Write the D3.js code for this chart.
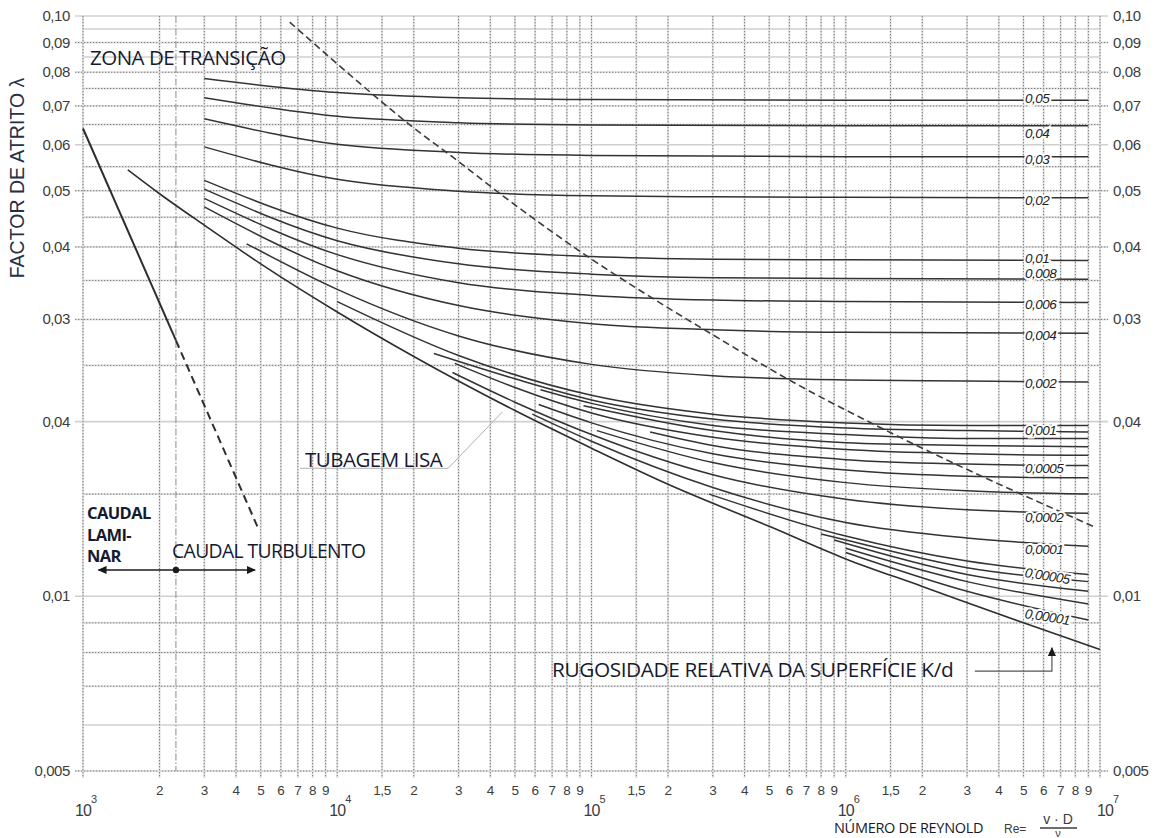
<!DOCTYPE html>
<html>
<head>
<meta charset="utf-8">
<script src="https://cdn.jsdelivr.net/npm/d3@7"></script>
<style>
body { margin: 0; background: #fff; }
svg { display: block; }
</style>
</head>
<body>
<svg id="chart" width="1155" height="838"></svg>
<script>
// ---- data ----
var yTickValues = [0.1, 0.09, 0.08, 0.07, 0.06, 0.05, 0.04, 0.03, 0.02, 0.01, 0.005];
var yTickLabels = ["0,10", "0,09", "0,08", "0,07", "0,06", "0,05", "0,04", "0,03", "0,04", "0,01", "0,005"];
var yGridDotted = [0.09, 0.08, 0.075, 0.07, 0.065, 0.055, 0.05, 0.045, 0.04, 0.035, 0.03, 0.025, 0.015, 0.009, 0.008, 0.007, 0.005];
var yGridSolid = [0.1, 0.095, 0.085, 0.06, 0.02, 0.01, 0.006, 0.005];

var decades = [1e3, 1e4, 1e5, 1e6, 1e7];
var decadeExp = ["3", "4", "5", "6", "7"];
var firstDecadeMults = [2, 3, 4, 5, 6, 7, 8, 9];
var otherDecadeMults = [1.5, 2, 3, 4, 5, 6, 7, 8, 9];
var reCritical = 2320;

// relative roughness curves  [Re, lambda]
var k0_05    = [[3e3,.0780],[1e4,.0738],[3e4,.0723],[1e5,.0718],[1e6,.0716],[9e6,.0716]];
var k0_04    = [[3e3,.0723],[1e4,.0672],[3e4,.0655],[1e5,.0649],[1e6,.0647],[9e6,.0647]];
var k0_03    = [[3e3,.0665],[1e4,.0601],[3e4,.0582],[1e5,.0575],[1e6,.0572],[9e6,.0572]];
var k0_02    = [[3e3,.0595],[1e4,.0523],[3e4,.0499],[1e5,.0490],[3e5,.0488],[1e6,.0487],[9e6,.0486]];
var k0_01    = [[3e3,.0521],[1e4,.0431],[3e4,.0398],[1e5,.0385],[3e5,.0381],[1e6,.0380],[9e6,.0379]];
var k0_008   = [[3e3,.0503],[1e4,.0410],[3e4,.0374],[1e5,.0359],[3e5,.0354],[1e6,.0353],[9e6,.0352]];
var k0_006   = [[3e3,.0485],[1e4,.0388],[3e4,.0347],[1e5,.0330],[3e5,.0324],[1e6,.0322],[9e6,.0321]];
var k0_004   = [[3e3,.0469],[1e4,.0364],[3e4,.0317],[1e5,.0295],[3e5,.0288],[1e6,.0285],[9e6,.0284]];
var k0_002   = [[4.4e3,.0405],[1e4,.0338],[3e4,.0281],[1e5,.0251],[3e5,.0240],[1e6,.0236],[3e6,.0235],[9e6,.0234]];
var k0_001   = [[1e4,.0322],[3e4,.0260],[1e5,.0222],[3e5,.0206],[1e6,.0199],[3e6,.0197],[9e6,.0197]];
var k0_0009  = [[2.4e4,.0262],[5e4,.0237],[1e5,.0218],[3e5,.0202],[1e6,.0195],[3e6,.0193],[9e6,.0192]];
var k0_0008  = [[6.3e4,.0227],[1e5,.0215],[3e5,.0197],[1e6,.0190],[3e6,.0187],[9e6,.0187]];
var k0_0007  = [[9.3e4,.0213],[3e5,.0193],[1e6,.0184],[3e6,.0182],[9e6,.0181]];
var k0_0006  = [[2.9e4,.0252],[5e4,.0229],[1e5,.0207],[3e5,.0188],[1e6,.0179],[3e6,.0176],[9e6,.0175]];
var k0_0005  = [[1.7e5,.0192],[3e5,.0182],[1e6,.0172],[3e6,.0169],[9e6,.0168]];
var k0_0004  = [[6.2e4,.0214],[1e5,.0199],[3e5,.0176],[1e6,.0165],[3e6,.0161],[9e6,.0160]];
var k0_0003  = [[1.05e5,.0193],[3e5,.0170],[1e6,.0157],[3e6,.0152],[9e6,.0150]];
var k0_0002  = [[2.84e4,.0243],[5e4,.0216],[1e5,.0190],[3e5,.0162],[1e6,.0147],[3e6,.0141],[9e6,.0139]];
var k0_0001  = [[5.85e4,.0206],[1e5,.0185],[3e5,.0154],[1e6,.0134],[3e6,.0126],[9e6,.0122]];
var k0_00005 = [[2.9e5,.0150],[1e6,.0127],[3e6,.0115],[9e6,.0109]];
var k0_00004 = [[8e5,.0128],[1e6,.0125],[3e6,.0112],[9e6,.0106]];
var k0_00003 = [[9e5,.0125],[3e6,.0109],[9e6,.0102]];
var k0_00002 = [[1e6,.0121],[3e6,.0106],[9e6,.0097]];
var k0_00001 = [[1e6,.0119],[3e6,.0102],[9e6,.0091]];
var smoothPipe = [[1.5e3,.0543],[2e3,.0494],[3e3,.0436],[5e3,.0374],[1e4,.0309],[2e4,.0259],[5e4,.0209],[1e5,.0180],[2e5,.0156],[5e5,.0132],[1e6,.0116],[2e6,.0104],[5e6,.0090],[1e7,.0081]];

// laminar flow line (solid part, then dashed)
var laminar = [[1e3,.064],[2.32e3,.0276]];
var laminarDashed = [[2.32e3,.0276],[4.9e3,.01306]];
// limit of the transition zone (dashed)
var transitionLimit = [[6.5e3,.0976],[1.47e4,.0716],[1.93e4,.0649],[2.85e4,.0571],[4.65e4,.0484],[1.01e5,.0380],[1.98e5,.0315],[2.93e5,.0284],[6.2e5,.0234],[1.36e6,.01956],[9.4e6,.0132]];

// curve labels
var curveLabels = ["0,05","0,04","0,03","0,02","0,01","0,008","0,006","0,004","0,002","0,001","0,0005","0,0002","0,0001","0,00005","0,00001"];
var curveLabelLambda = [.0722,.0629,.0567,.0482,.0383,.0361,.0318,.0282,.0233,.0193,.01662,.01368,.01205,.0110,.00935];
var curveLabelAngle = [0,0,0,0,0,0,0,0,0,0,0,0,0,9,9];

var roughCurves = [k0_05,k0_04,k0_03,k0_02,k0_01,k0_008,k0_006,k0_004,k0_002,k0_001,
    k0_0009,k0_0008,k0_0007,k0_0006,k0_0005,k0_0004,k0_0003,k0_0002,k0_0001,
    k0_00005,k0_00004,k0_00003,k0_00002,k0_00001];

// ---- drawing ----
var x = d3.scaleLog().domain([1e3, 1e7]).range([83, 1100]);
var y = d3.scaleLog().domain([0.005, 0.1]).range([771, 16]);
var svg = d3.select('#chart');
var ink = '#161a2e';
var axisInk = '#3c3c3c';

var defs = svg.append('defs');
defs.append('marker').attr('id', 'arr')
    .attr('viewBox', '0 -5 10 10').attr('refX', 9).attr('refY', 0)
    .attr('markerWidth', 9).attr('markerHeight', 9).attr('markerUnits', 'userSpaceOnUse')
    .attr('orient', 'auto-start-reverse')
  .append('path').attr('d', 'M0,-4.5L10,0L0,4.5Z').attr('fill', '#1a1a1a');

// vertical grid values
var xGrid = [];
decades.slice(0, 4).forEach(function(d, i){
    (i == 0 ? firstDecadeMults : otherDecadeMults).forEach(function(m){
        xGrid.push({v: d*m, t: String(m).replace('.', ',')});
    });
});

var grid = svg.append('g');
// light bands under all gridlines
grid.selectAll('.hb').data(yGridSolid).enter().append('line')
    .attr('x1', function(d){ return yTickValues.indexOf(d) >= 0 ? 75 : 83; })
    .attr('x2', function(d){ return yTickValues.indexOf(d) >= 0 ? 1108 : 1100; })
    .attr('y1', y).attr('y2', y)
    .attr('stroke', '#d0d0d0').attr('stroke-width', 1.6);
grid.selectAll('.hd').data(yGridDotted).enter().append('line')
    .attr('x1', function(d){ return yTickValues.indexOf(d) >= 0 ? 75 : 83; })
    .attr('x2', function(d){ return yTickValues.indexOf(d) >= 0 ? 1108 : 1100; })
    .attr('y1', y).attr('y2', y)
    .attr('stroke', '#e2e2e2').attr('stroke-width', 2);
grid.selectAll('.hdd').data(yGridDotted).enter().append('line')
    .attr('x1', function(d){ return yTickValues.indexOf(d) >= 0 ? 75 : 83; })
    .attr('x2', function(d){ return yTickValues.indexOf(d) >= 0 ? 1108 : 1100; })
    .attr('y1', y).attr('y2', y)
    .attr('stroke', '#6e6e6e').attr('stroke-width', 0.9).attr('stroke-dasharray', '1.3,1.7');

var vAll = decades.concat(xGrid.map(function(d){ return d.v; }));
grid.selectAll('.vb').data(vAll).enter().append('line')
    .attr('x1', x).attr('x2', x).attr('y1', 16).attr('y2', 778)
    .attr('stroke', '#e2e2e2').attr('stroke-width', 2);
grid.selectAll('.vd').data(vAll).enter().append('line')
    .attr('x1', x).attr('x2', x).attr('y1', 16).attr('y2', 778)
    .attr('stroke', '#6e6e6e').attr('stroke-width', 0.9).attr('stroke-dasharray', '1.3,1.7');
// critical Reynolds, dash-dot
grid.append('line')
    .attr('x1', x(reCritical)).attr('x2', x(reCritical)).attr('y1', y(0.1)).attr('y2', y(0.005))
    .attr('stroke', '#8a8a8a').attr('stroke-width', 1).attr('stroke-dasharray', '7,2,1.5,2');

// axis labels
var axisFont = '"Liberation Sans", Arial, sans-serif';
svg.append('g').selectAll('text').data(yTickValues).enter().append('text')
    .attr('x', 70).attr('y', function(d){ return y(d) + 5; })
    .attr('text-anchor', 'end').attr('font-family', axisFont).attr('font-size', 15)
    .attr('fill', axisInk).attr('letter-spacing', -0.4)
    .text(function(d, i){ return yTickLabels[i]; });
svg.append('g').selectAll('text').data(yTickValues).enter().append('text')
    .attr('x', 1113).attr('y', function(d){ return y(d) + 5; })
    .attr('font-family', axisFont).attr('font-size', 15)
    .attr('fill', axisInk).attr('letter-spacing', -0.4)
    .text(function(d, i){ return yTickLabels[i]; });

svg.append('g').selectAll('text').data(xGrid).enter().append('text')
    .attr('x', function(d){ return x(d.v); }).attr('y', 795)
    .attr('text-anchor', 'middle').attr('font-family', axisFont).attr('font-size', 13.5)
    .attr('fill', axisInk).attr('letter-spacing', -0.4)
    .text(function(d){ return d.t; });

var decLab = svg.append('g').selectAll('g').data(decades).enter().append('g')
    .attr('transform', function(d, i){ return 'translate(' + (x(d) + (i == 4 ? -3 : -8)) + ',0)'; });
decLab.append('text').attr('x', 0).attr('y', 816)
    .attr('font-family', axisFont).attr('font-size', 16).attr('fill', axisInk).attr('letter-spacing', -0.8)
    .text('10');
decLab.append('text').attr('x', 16).attr('y', 803)
    .attr('font-family', axisFont).attr('font-size', 11).attr('fill', axisInk)
    .text(function(d, i){ return decadeExp[i]; });

// y axis title
svg.append('text')
    .attr('transform', 'translate(24,178) rotate(-90)')
    .attr('text-anchor', 'middle').attr('font-family', axisFont).attr('font-size', 19.5)
    .attr('fill', '#283048')
    .text('FACTOR DE ATRITO λ');

// x axis title
var textFont = '"Open Sans", "Noto Sans", sans-serif';
svg.append('text').attr('x', 834).attr('y', 833)
    .attr('font-family', textFont).attr('font-size', 14.5).attr('fill', ink).attr('letter-spacing', -0.3)
    .text('NÚMERO DE REYNOLD');
svg.append('text').attr('x', 1004).attr('y', 833)
    .attr('font-family', axisFont).attr('font-size', 12).attr('fill', axisInk)
    .text('Re=');
svg.append('text').attr('x', 1058).attr('y', 824).attr('text-anchor', 'middle')
    .attr('font-family', axisFont).attr('font-size', 14).attr('fill', axisInk)
    .text('v · D');
svg.append('line').attr('x1', 1040).attr('x2', 1077).attr('y1', 828).attr('y2', 828)
    .attr('stroke', axisInk).attr('stroke-width', 1.3);
svg.append('text').attr('x', 1058).attr('y', 837).attr('text-anchor', 'middle')
    .attr('font-family', axisFont).attr('font-size', 11).attr('fill', axisInk)
    .text('ν');

// ---- curves ----
var line = d3.line()
    .x(function(d){ return x(d[0]); })
    .y(function(d){ return y(d[1]); })
    .curve(d3.curveMonotoneX);

var curves = svg.append('g').attr('fill', 'none');
curves.selectAll('path.k').data(roughCurves).enter().append('path')
    .attr('d', line).attr('stroke', '#333').attr('stroke-width', 1.5);
curves.append('path').datum(smoothPipe).attr('d', line)
    .attr('stroke', '#2e2e2e').attr('stroke-width', 1.6);
curves.append('path').datum(laminar).attr('d', line)
    .attr('stroke', '#2e2e2e').attr('stroke-width', 2);
curves.append('path').datum(laminarDashed).attr('d', line)
    .attr('stroke', '#2e2e2e').attr('stroke-width', 2).attr('stroke-dasharray', '8,5');
curves.append('path').datum(transitionLimit).attr('d', line)
    .attr('stroke', '#3c3c3c').attr('stroke-width', 1.6).attr('stroke-dasharray', '7,4');

// curve labels with white halo cutting the lines
var labX = x(5.07e6);
svg.append('g').selectAll('text').data(curveLabels).enter().append('text')
    .attr('transform', function(d, i){
        return 'translate(' + labX + ',' + y(curveLabelLambda[i]) + ') rotate(' + curveLabelAngle[i] + ')';
    })
    .attr('dy', '0.35em')
    .attr('font-family', axisFont).attr('font-style', 'italic').attr('font-size', 13.5)
    .attr('letter-spacing', -0.5)
    .attr('fill', '#222').attr('stroke', '#fff').attr('stroke-width', 4)
    .attr('paint-order', 'stroke')
    .text(function(d){ return d; });

// ---- annotations ----
svg.append('text').attr('x', 90).attr('y', 65)
    .attr('font-family', textFont).attr('font-size', 20.5).attr('fill', ink).attr('letter-spacing', -0.5)
    .text('ZONA DE TRANSIÇÃO');

var lam = svg.append('text').attr('font-family', textFont).attr('font-weight', 'bold')
    .attr('font-size', 16.5).attr('fill', ink).attr('letter-spacing', -0.6);
lam.append('tspan').attr('x', 87).attr('y', 519).text('CAUDAL');
lam.append('tspan').attr('x', 87).attr('y', 541).text('LAMI-');
lam.append('tspan').attr('x', 87).attr('y', 562).text('NAR');

svg.append('text').attr('x', 172).attr('y', 558)
    .attr('font-family', textFont).attr('font-size', 19.3).attr('fill', ink).attr('letter-spacing', -0.6)
    .text('CAUDAL TURBULENTO');

// flow regime arrows
var arrowLambda = 0.0111;
svg.append('line')
    .attr('x1', x(1.15e3)).attr('x2', x(4.75e3))
    .attr('y1', y(arrowLambda)).attr('y2', y(arrowLambda))
    .attr('stroke', '#1a1a1a').attr('stroke-width', 1.5)
    .attr('marker-start', 'url(#arr)').attr('marker-end', 'url(#arr)');
svg.append('circle').attr('cx', x(reCritical)).attr('cy', y(arrowLambda)).attr('r', 3.2)
    .attr('fill', '#1a1a1a');

svg.append('text').attr('x', 305).attr('y', 467)
    .attr('font-family', textFont).attr('font-size', 20.5).attr('fill', ink).attr('letter-spacing', -0.5)
    .text('TUBAGEM LISA');
var lisaLeader = [[7.14e3,.01662],[2.73e4,.01662],[4.45e4,.02076]];
svg.append('path').datum(lisaLeader)
    .attr('d', d3.line().x(function(d){ return x(d[0]); }).y(function(d){ return y(d[1]); }))
    .attr('fill', 'none').attr('stroke', '#b0b0b0').attr('stroke-width', 1);

svg.append('text').attr('x', 552).attr('y', 677)
    .attr('font-family', textFont).attr('font-size', 20.8).attr('fill', ink).attr('letter-spacing', -0.4)
    .text('RUGOSIDADE RELATIVA DA SUPERFÍCIE K/d');
var kLeader = [[3.22e6,.00743],[6.47e6,.00743],[6.47e6,.00815]];
svg.append('path').datum(kLeader)
    .attr('d', d3.line().x(function(d){ return x(d[0]); }).y(function(d){ return y(d[1]); }))
    .attr('fill', 'none').attr('stroke', '#555').attr('stroke-width', 1.2)
    .attr('marker-end', 'url(#arr)');
</script>
</body>
</html>
